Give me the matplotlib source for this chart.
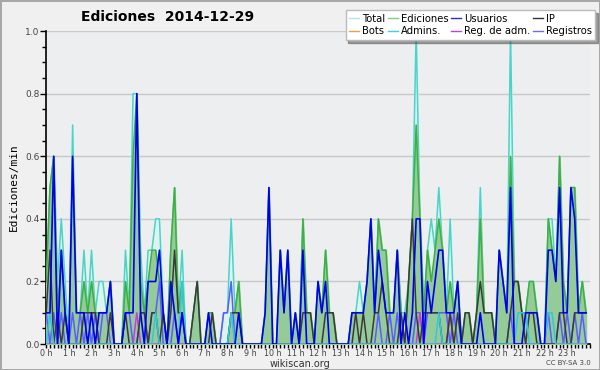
import numpy as np
import matplotlib
matplotlib.use("Agg")
import matplotlib.pyplot as plt
from matplotlib.ticker import MultipleLocator, FixedLocator

# edits per 10 minutes, one row per hour (6 slots)
total = [
    2, 5, 6, 2, 4, 2,   0, 7, 1, 1, 3, 1,   3, 1, 2, 2, 1, 2,   0, 0, 0, 3, 1, 8,
    8, 3, 1, 3, 3, 4,   4, 1, 0, 3, 5, 1,   3, 0, 0, 1, 2, 0,   0, 1, 1, 0, 0, 1,
    1, 4, 1, 2, 0, 0,   0, 0, 0, 0, 1, 5,   0, 0, 3, 1, 3, 0,   1, 0, 4, 1, 1, 0,
    2, 1, 3, 1, 1, 0,   0, 0, 0, 1, 1, 2,   1, 2, 4, 1, 4, 3,   3, 1, 1, 3, 1, 1,
    2, 4, 10, 4, 1, 3,  4, 3, 5, 3, 1, 4,   1, 2, 0, 1, 1, 0,   1, 5, 1, 1, 1, 0,
    3, 2, 1, 10, 2, 2,  1, 1, 2, 2, 1, 0,   0, 4, 4, 2, 6, 2,   1, 5, 5, 1, 2, 1,
]
ediciones = [
    2, 5, 6, 1, 3, 1,   0, 6, 1, 1, 2, 1,   2, 1, 1, 1, 1, 2,   0, 0, 0, 2, 1, 6,
    8, 2, 1, 2, 3, 3,   2, 1, 0, 3, 5, 1,   2, 0, 0, 1, 2, 0,   0, 1, 1, 0, 0, 0,
    0, 1, 1, 2, 0, 0,   0, 0, 0, 0, 1, 5,   0, 0, 3, 1, 3, 0,   1, 0, 4, 1, 1, 0,
    2, 1, 3, 1, 1, 0,   0, 0, 0, 1, 1, 1,   1, 2, 4, 1, 4, 3,   3, 1, 1, 3, 1, 0,
    2, 4, 7, 4, 1, 3,   2, 3, 4, 3, 1, 2,   1, 2, 0, 1, 1, 0,   1, 4, 1, 1, 1, 0,
    3, 2, 1, 6, 2, 2,   1, 1, 2, 2, 1, 0,   0, 4, 3, 2, 6, 2,   1, 5, 5, 1, 2, 1,
]
usuarios = [
    1, 1, 6, 0, 3, 1,   0, 6, 1, 1, 1, 0,   1, 0, 1, 1, 1, 2,   0, 0, 0, 1, 1, 1,
    8, 1, 0, 2, 2, 2,   3, 1, 0, 2, 1, 0,   1, 0, 0, 0, 0, 0,   0, 1, 0, 0, 0, 0,
    0, 0, 0, 1, 0, 0,   0, 0, 0, 0, 1, 5,   0, 0, 3, 1, 3, 0,   1, 0, 3, 0, 0, 0,
    2, 1, 2, 0, 0, 0,   0, 0, 0, 1, 1, 1,   1, 2, 4, 1, 3, 2,   1, 1, 1, 3, 0, 1,
    0, 1, 4, 4, 0, 2,   1, 2, 3, 3, 1, 1,   1, 2, 0, 0, 0, 0,   0, 1, 0, 0, 0, 0,
    3, 2, 1, 5, 0, 0,   0, 1, 1, 1, 1, 0,   0, 3, 3, 2, 5, 1,   1, 5, 4, 1, 1, 1,
]
ip = [
    1, 3, 0, 1, 0, 1,   0, 0, 0, 0, 1, 1,   1, 1, 0, 0, 0, 1,   0, 0, 0, 1, 0, 0,
    0, 1, 1, 0, 1, 1,   0, 1, 0, 1, 3, 1,   1, 0, 0, 1, 2, 0,   0, 0, 1, 0, 0, 0,
    0, 1, 1, 1, 0, 0,   0, 0, 0, 0, 0, 0,   0, 0, 0, 0, 0, 0,   0, 0, 1, 1, 1, 0,
    0, 0, 1, 1, 1, 0,   0, 0, 0, 0, 1, 0,   1, 0, 0, 1, 1, 2,   1, 0, 0, 0, 1, 0,
    2, 4, 1, 0, 1, 1,   1, 1, 1, 0, 0, 1,   0, 1, 0, 1, 1, 0,   1, 2, 1, 1, 1, 0,
    0, 0, 0, 1, 2, 2,   1, 0, 1, 1, 0, 0,   0, 0, 0, 0, 1, 1,   0, 0, 1, 1, 1, 1,
]
bots = [
    0, 0, 0, 0, 0, 0,   0, 0, 0, 0, 0, 0,   0, 0, 0, 0, 0, 0,   0, 0, 0, 0, 0, 0,
    0, 0, 0, 0, 0, 0,   0, 0, 0, 0, 0, 0,   0, 0, 0, 0, 0, 0,   0, 0, 0, 0, 0, 0,
    0, 0, 0, 0, 0, 0,   0, 0, 0, 0, 0, 0,   0, 0, 0, 0, 0, 0,   0, 0, 0, 0, 0, 0,
    0, 0, 0, 0, 0, 0,   0, 0, 0, 0, 0, 0,   0, 0, 0, 0, 0, 0,   0, 0, 0, 0, 0, 0,
    0, 0, 0, 0, 0, 0,   0, 0, 0, 0, 0, 0,   0, 0, 0, 0, 0, 0,   0, 0, 0, 0, 0, 0,
    0, 0, 0, 0, 0, 0,   0, 0, 0, 0, 0, 0,   0, 0, 0, 0, 0, 0,   0, 0, 0, 0, 0, 0,
]
admins = [
    0, 1, 0, 0, 0, 0,   0, 0, 0, 0, 0, 0,   0, 0, 0, 0, 0, 0,   0, 0, 0, 0, 0, 0,
    0, 0, 0, 0, 0, 1,   0, 0, 0, 0, 0, 0,   2, 0, 0, 0, 0, 0,   0, 0, 0, 0, 0, 0,
    0, 1, 0, 0, 0, 0,   0, 0, 0, 0, 0, 0,   0, 0, 0, 0, 0, 0,   0, 0, 0, 0, 0, 0,
    0, 0, 0, 0, 0, 0,   0, 0, 0, 0, 0, 0,   0, 0, 0, 0, 0, 0,   0, 0, 0, 0, 0, 0,
    0, 0, 0, 0, 0, 0,   0, 0, 1, 0, 0, 0,   0, 0, 0, 0, 0, 0,   0, 0, 0, 0, 0, 0,
    0, 0, 0, 0, 0, 1,   1, 1, 0, 0, 0, 0,   0, 1, 1, 0, 0, 0,   0, 0, 0, 0, 0, 0,
]
reg_adm = [
    0, 0, 0, 0, 0, 0,   0, 0, 0, 0, 0, 0,   0, 0, 0, 0, 0, 0,   0, 0, 0, 0, 0, 0,
    1, 0, 0, 0, 0, 0,   0, 0, 0, 0, 0, 0,   0, 0, 0, 0, 0, 0,   0, 0, 0, 0, 0, 0,
    0, 0, 0, 0, 0, 0,   0, 0, 0, 0, 0, 0,   0, 0, 0, 0, 0, 0,   0, 0, 0, 0, 0, 0,
    0, 0, 0, 0, 0, 0,   0, 0, 0, 0, 0, 0,   0, 0, 0, 0, 0, 0,   0, 0, 0, 0, 0, 0,
    0, 0, 0, 1, 0, 0,   0, 0, 0, 0, 0, 1,   0, 0, 0, 0, 0, 0,   0, 0, 0, 0, 0, 0,
    0, 0, 0, 0, 0, 0,   0, 0, 0, 0, 0, 0,   0, 0, 0, 0, 0, 0,   0, 0, 0, 0, 0, 0,
]
registros = [
    1, 0, 1, 0, 1, 0,   0, 1, 0, 1, 0, 1,   0, 1, 0, 1, 1, 0,   0, 0, 0, 1, 1, 0,
    0, 1, 1, 0, 1, 1,   2, 0, 0, 0, 1, 0,   1, 0, 0, 0, 0, 0,   0, 0, 0, 0, 0, 1,
    1, 2, 0, 0, 0, 0,   0, 0, 0, 0, 0, 0,   0, 0, 0, 0, 0, 0,   0, 0, 0, 0, 0, 0,
    0, 0, 0, 0, 0, 0,   0, 0, 0, 0, 0, 0,   0, 0, 0, 0, 1, 0,   0, 1, 0, 1, 0, 0,
    0, 0, 1, 1, 0, 1,   1, 1, 1, 1, 1, 0,   1, 0, 0, 0, 0, 0,   0, 0, 0, 0, 0, 0,
    0, 0, 0, 1, 0, 0,   0, 0, 0, 0, 0, 0,   0, 1, 0, 0, 1, 0,   1, 0, 1, 0, 1, 0,
]
hour_labels = ["%d h" % h for h in range(24)]

# 10 minute slots -> per minute
x = np.arange(len(total)) / 6.0
def per_min(v):
    return np.array(v) / 10.0

fig = plt.figure(figsize=(6, 3.7), dpi=100, facecolor="#f0f0f0",
                 edgecolor="#a8a8a8", linewidth=2)
ax = fig.add_axes([0.077, 0.07, 0.906, 0.846])
ax.set_facecolor("#edeef0")

for y in [0.2, 0.4, 0.6, 0.8, 1.0]:
    ax.axhline(y, color="#c8c8c8", lw=1, zorder=0)

T = per_min(total)
E = per_min(ediciones)
ax.fill_between(x, 0, T, color="#dff3ee", zorder=1)
ax.plot(x, T, color="#48d4c8", lw=1.1, zorder=2)
ax.fill_between(x, 0, E, color="#95cb98", zorder=3)
ax.plot(x, E, color="#3cb043", lw=1.1, zorder=4)
ax.plot(x, per_min(bots), color="#f0a040", lw=1, zorder=5)
ax.plot(x, per_min(registros), color="#5c5cff", lw=1.1, zorder=5)
ax.plot(x, per_min(reg_adm), color="#c040e0", lw=1.1, zorder=5)
ax.plot(x, per_min(ip), color="#3a3a3a", lw=1.1, zorder=6)
ax.plot(x, per_min(admins), color="#30c8e0", lw=1.1, zorder=6)
ax.plot(x, per_min(usuarios), color="#0000ee", lw=1.2, zorder=7)

ax.set_xlim(0, 24)
ax.set_ylim(0, 1.0)
ax.xaxis.set_major_locator(FixedLocator(range(24)))
ax.set_xticklabels(hour_labels)
ax.xaxis.set_minor_locator(MultipleLocator(1 / 6))
ax.yaxis.set_major_locator(MultipleLocator(0.2))
ax.yaxis.set_minor_locator(MultipleLocator(0.05))
ax.tick_params(axis="y", which="major", length=4, width=1, labelsize=6.5,
               labelcolor="#444444", pad=1)
ax.tick_params(axis="x", which="major", length=3, width=1, labelsize=5.8,
               labelcolor="#444444", pad=0.5)
ax.tick_params(axis="both", which="minor", length=3, width=1)
for s in ["top", "right"]:
    ax.spines[s].set_visible(False)
ax.spines["left"].set_linewidth(1.2)
ax.spines["bottom"].set_linewidth(1.2)

ax.set_ylabel("Ediciones/min", family="DejaVu Sans Mono", fontsize=8, labelpad=4)
fig.text(0.28, 0.955, "Ediciones  2014-12-29", fontsize=10, fontweight="bold",
         ha="center", va="center")
fig.text(0.5, 0.017, "wikiscan.org", fontsize=7, color="#333333",
         ha="center", va="center")
fig.text(0.985, 0.02, "CC BY-SA 3.0", fontsize=5, color="#444444",
         ha="right", va="center")

handles = [
    plt.Line2D([], [], color="#b0e8e2", lw=1),
    plt.Line2D([], [], color="#f0a040", lw=1),
    plt.Line2D([], [], color="#80cc80", lw=1),
    plt.Line2D([], [], color="#40d0e0", lw=1),
    plt.Line2D([], [], color="#3030c0", lw=1),
    plt.Line2D([], [], color="#c040e0", lw=1),
    plt.Line2D([], [], color="#333333", lw=1),
    plt.Line2D([], [], color="#6a6aff", lw=1),
]
labels = ["Total", "Bots", "Ediciones", "Admins.", "Usuarios",
          "Reg. de adm.", "IP", "Registros"]
leg = fig.legend(handles, labels, ncol=4, loc="upper right",
                 bbox_to_anchor=(0.992, 0.972), fontsize=7.2, frameon=True,
                 fancybox=False, shadow=True, handlelength=1.0,
                 handletextpad=0.3, columnspacing=0.25, labelspacing=0.25,
                 borderpad=0.35, borderaxespad=0.0)
leg.get_frame().set_edgecolor("#bbbbbb")
leg.get_frame().set_facecolor("white")
leg.get_frame().set_alpha(1)

fig.savefig("out.png", dpi=100, facecolor=fig.get_facecolor(),
            edgecolor=fig.get_edgecolor())
